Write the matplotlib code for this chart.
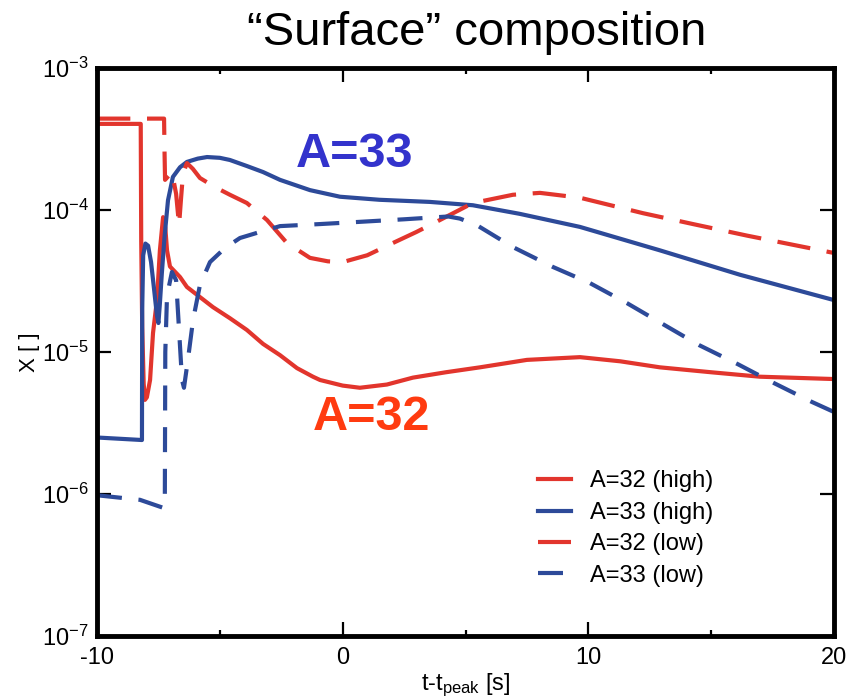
import numpy as np
import matplotlib
matplotlib.use("Agg")
import matplotlib.pyplot as plt

plt.rcParams['font.family'] = ['Liberation Sans', 'DejaVu Sans']
plt.rcParams['mathtext.fontset'] = 'custom'
plt.rcParams['mathtext.rm'] = 'Liberation Sans'
plt.rcParams['mathtext.it'] = 'Liberation Sans:italic'
plt.rcParams['axes.unicode_minus'] = False

RED = '#e2352d'
BLUE = '#2d4a99'

# A=32 (high) - red solid
t_32h = [-10, -8.22, -8.2, -8.16, -8.1, -8.05, -7.97, -7.84, -7.72, -7.56, -7.44,
         -7.31, -7.22, -7.15, -7.03, -6.62, -6.34, -5.28, -4.59, -3.90, -3.24,
         -2.55, -1.86, -1.21, -0.92, 0.0, 0.70, 1.8, 2.86, 4.2, 5.59, 7.5, 9.66,
         11.3, 12.91, 15.0, 16.98, 20.0]
x_32h = [4.04e-4, 4.04e-4, 6e-5, 1.5e-5, 6e-6, 4.6e-6, 4.8e-6, 6.35e-6, 1.36e-5,
         2.32e-5, 5.2e-5, 8.9e-5, 7.5e-5, 5.2e-5, 4.0e-5, 3.37e-5, 2.87e-5,
         2.07e-5, 1.73e-5, 1.43e-5, 1.14e-5, 9.5e-6, 7.7e-6, 6.7e-6, 6.35e-6,
         5.8e-6, 5.6e-6, 5.9e-6, 6.6e-6, 7.2e-6, 7.8e-6, 8.8e-6, 9.2e-6, 8.6e-6,
         7.8e-6, 7.2e-6, 6.7e-6, 6.45e-6]

# A=33 (high) - blue solid
t_33h = [-10, -8.17, -8.16, -8.12, -8.03, -7.92, -7.80, -7.68, -7.56, -7.50, -7.44,
         -7.36, -7.25, -7.11, -6.91, -6.62, -6.34, -5.90, -5.52, -5.0, -4.59,
         -3.90, -3.24, -2.55, -1.33, -0.11, 1.5, 3.55, 5.30, 7.2, 9.66, 12.91,
         16.17, 20.0]
x_33h = [2.5e-6, 2.4e-6, 2e-5, 4.8e-5, 5.8e-5, 5.6e-5, 4.3e-5, 2.8e-5, 1.8e-5,
         1.6e-5, 2.2e-5, 3.6e-5, 6.5e-5, 1.17e-4, 1.71e-4, 2.0e-4, 2.18e-4,
         2.3e-4, 2.36e-4, 2.33e-4, 2.25e-4, 2.04e-4, 1.85e-4, 1.63e-4, 1.38e-4,
         1.24e-4, 1.18e-4, 1.14e-4, 1.08e-4, 9.4e-5, 7.6e-5, 5.2e-5, 3.5e-5,
         2.32e-5]

# A=32 (low) - red dashed
t_32l = [-10, -7.27, -7.25, -7.23, -6.95, -6.78, -6.66, -6.58, -6.50, -6.34, -6.10,
         -5.81, -5.2, -4.59, -3.90, -3.08, -2.27, -1.33, -0.6, 0.01, 1.0, 2.05,
         3.0, 3.96, 5.30, 6.93, 8.03, 9.66, 12.22, 14.26, 16.46, 20.0]
x_32l = [4.4e-4, 4.4e-4, 2.5e-4, 1.63e-4, 1.85e-4, 1.3e-4, 7.8e-5, 1.2e-4, 1.8e-4,
         2.14e-4, 1.95e-4, 1.68e-4, 1.45e-4, 1.28e-4, 1.12e-4, 8.5e-5, 5.86e-5,
         4.6e-5, 4.35e-5, 4.3e-5, 4.8e-5, 5.86e-5, 7.0e-5, 8.5e-5, 1.12e-4,
         1.28e-4, 1.32e-4, 1.22e-4, 9.5e-5, 7.96e-5, 6.6e-5, 4.98e-5]

# A=33 (low) - blue dashed
t_33l = [-10, -8.25, -7.31, -7.24, -7.22, -7.15, -6.95, -6.78, -6.66, -6.54, -6.46,
         -6.30, -6.09, -5.81, -5.40, -4.79, -4.18, -3.37, -2.55, -0.92, 0.42, 2.5,
         3.84, 4.3, 4.77, 5.47, 6.93, 8.56, 10.06, 11.57, 13.04, 14.50, 16.09,
         17.55, 19.10, 20.0]
x_33l = [9.8e-7, 9.1e-7, 8.0e-7, 8.0e-7, 1e-5, 2.5e-5, 3.66e-5, 3.2e-5, 1.43e-5,
         6.35e-6, 5.6e-6, 8.8e-6, 1.68e-5, 2.96e-5, 4.3e-5, 5.4e-5, 6.35e-5, 7.0e-5,
         7.7e-5, 7.96e-5, 8.2e-5, 8.6e-5, 8.9e-5, 9.0e-5, 8.7e-5, 7.8e-5, 5.48e-5,
         3.97e-5, 3.06e-5, 2.21e-5, 1.57e-5, 1.12e-5, 8.2e-6, 6.05e-6, 4.45e-6,
         3.78e-6]

fig = plt.figure(figsize=(8.63, 6.98), dpi=100)
ax = fig.add_axes([0.1124, 0.0888, 0.854, 0.8138])

lw = 3
ax.plot(t_32h, x_32h, '-', color=RED, lw=lw, label='A=32 (high)')
ax.plot(t_33h, x_33h, '-', color=BLUE, lw=lw, label='A=33 (high)')
ax.plot(t_32l, x_32l, color=RED, lw=lw, dashes=(8, 4), label='A=32 (low)')
ax.plot(t_33l, x_33l, color=BLUE, lw=lw, dashes=(6, 4), label='A=33 (low)')

ax.set_yscale('log')
ax.set_xlim(-10, 20)
ax.set_ylim(1e-7, 1e-3)
ax.set_xticks([-10, 0, 10, 20])
ax.set_xticks([-5, 5, 15], minor=True)
ax.set_yticks([1e-7, 1e-6, 1e-5, 1e-4, 1e-3])
ax.yaxis.set_minor_locator(matplotlib.ticker.NullLocator())

for s in ax.spines.values():
    s.set_linewidth(3.5)
ax.tick_params(which='both', direction='in', top=True, right=True, width=1.6,
               labelsize=17)
ax.tick_params(which='major', length=10)
ax.tick_params(which='minor', length=4)
ax.tick_params(axis='x', pad=8)
ax.tick_params(axis='y', pad=6)

ax.set_xlabel('t-t$_\\mathregular{peak}$ [s]', fontsize=17, labelpad=2)
ax.set_ylabel('X [ ]', fontsize=16, labelpad=1)

fig.text(0.552, 0.953, '\u201cSurface\u201d composition', fontsize=34,
         ha='center', va='center')
ax.text(0.5, 2.44e-4, 'A=33', color='#3333cc', fontsize=35, fontweight='bold',
        ha='center', va='center')
ax.text(1.19, 3.43e-6, 'A=32', color='#ff3b10', fontsize=35, fontweight='bold',
        ha='center', va='center')

ax.legend(loc='upper left', bbox_to_anchor=(0.569, 0.329), frameon=False,
          fontsize=17, handlelength=1.4, labelspacing=0.4, handletextpad=0.8)

fig.savefig('out.png', dpi=100)
